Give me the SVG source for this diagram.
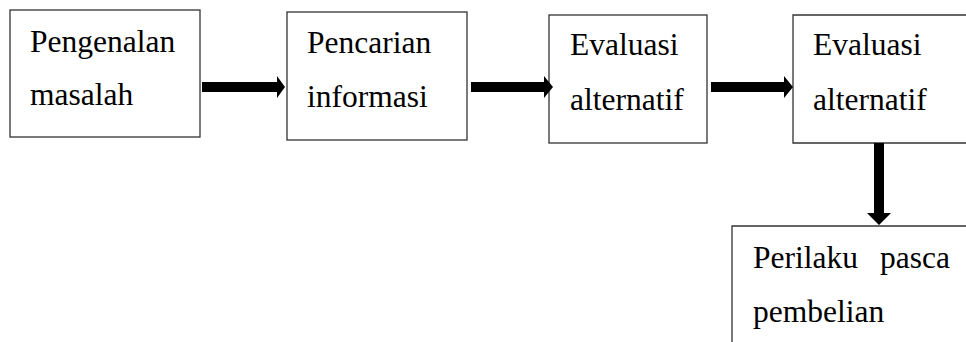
<svg xmlns="http://www.w3.org/2000/svg" width="966" height="342" viewBox="0 0 966 342">
<style>
.box{fill:#fff;stroke:#333;stroke-width:1.3}
.arr{fill:#000}
</style>
<rect width="966" height="342" fill="#fff"/>
<g id="n1"><rect class="box" x="10" y="10" width="190" height="127"/>
<text x="30" y="52" font-family="Times New Roman, Liberation Serif, serif" font-size="31.5">Pengenalan</text><text x="30" y="105" font-family="Times New Roman, Liberation Serif, serif" font-size="31.5">masalah</text></g>
<g id="n2"><rect class="box" x="287" y="12" width="180" height="128"/>
<text x="307" y="53" font-family="Times New Roman, Liberation Serif, serif" font-size="31.5">Pencarian</text><text x="307" y="107" font-family="Times New Roman, Liberation Serif, serif" font-size="31.5">informasi</text></g>
<g id="n3"><rect class="box" x="549" y="15" width="158" height="128"/>
<text x="570" y="55" font-family="Times New Roman, Liberation Serif, serif" font-size="31.5">Evaluasi</text><text x="570" y="110" font-family="Times New Roman, Liberation Serif, serif" font-size="31.5">alternatif</text></g>
<g id="n4"><path class="box" d="M968,15 H793 V143 H968"/>
<text x="813" y="55" font-family="Times New Roman, Liberation Serif, serif" font-size="31.5">Evaluasi</text><text x="813" y="110" font-family="Times New Roman, Liberation Serif, serif" font-size="31.5">alternatif</text></g>
<g id="n5"><path class="box" d="M968,226 H732 V344"/>
<text x="753" y="268" font-family="Times New Roman, Liberation Serif, serif" font-size="31.5">Perilaku</text><text x="950" y="268" text-anchor="end" font-family="Times New Roman, Liberation Serif, serif" font-size="31.5">pasca</text>
<text x="753" y="322" font-family="Times New Roman, Liberation Serif, serif" font-size="31.5">pembelian</text></g>
<g id="connectors">
<polygon class="arr" points="202,82 277,82 277,76 285,87 277,98 277,92 202,92"/>
<polygon class="arr" points="471,82 544,82 544,76 553,87 544,98 544,92 471,92"/>
<polygon class="arr" points="711,82 784,82 784,76 793,87 784,98 784,92 711,92"/>
<polygon class="arr" points="874,143 884,143 884,213 891,213 879,225 867,213 874,213"/>
</g>
</svg>
